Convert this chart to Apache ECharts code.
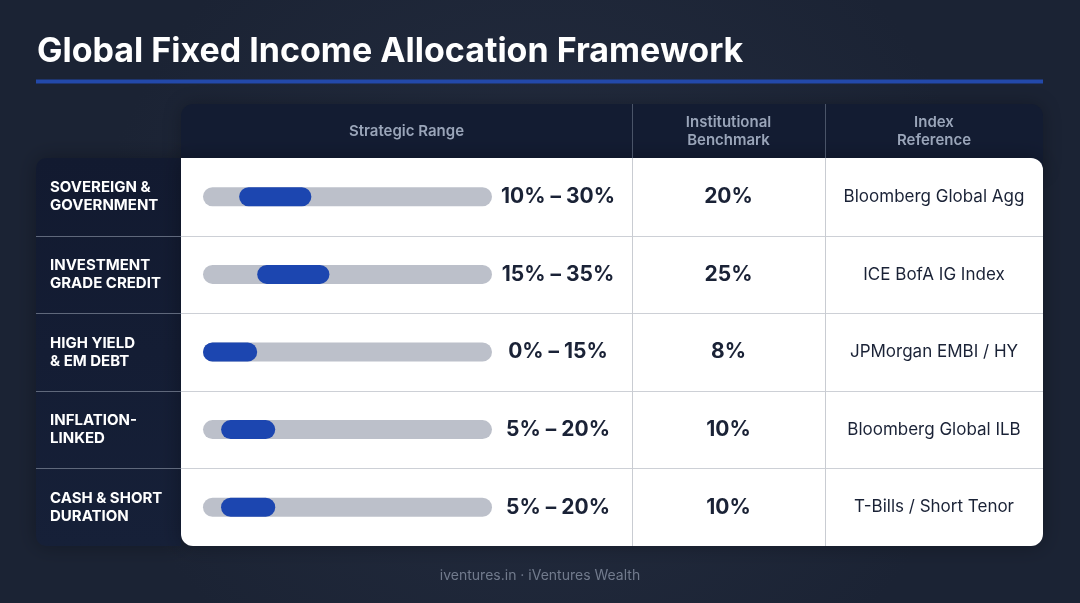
<!DOCTYPE html>
<html>
<head>
<meta charset="utf-8">
<title>Global Fixed Income Allocation Framework</title>
<script src="https://cdn.jsdelivr.net/npm/echarts@6/dist/echarts.min.js"></script>
<style>
	html, body { margin: 0; padding: 0; background: #1f2739; }
	#chart { width: 1080px; height: 603px; }
</style>
</head>
<body>
<div id="chart"></div>
<script>
	// 数据
	var categories = ["SOVEREIGN &\nGOVERNMENT", "INVESTMENT\nGRADE CREDIT", "HIGH YIELD\n& EM DEBT", "INFLATION-\nLINKED", "CASH & SHORT\nDURATION"];
	var rangeLow = [10, 15, 0, 5, 5];
	var rangeHigh = [30, 35, 15, 20, 20];
	var benchmark = [20, 25, 8, 10, 10];
	var indexRef = ["Bloomberg Global Agg", "ICE BofA IG Index", "JPMorgan EMBI / HY", "Bloomberg Global ILB", "T-Bills / Short Tenor"];
	var scaleMax = 80; // 轨道满刻度

	var FONT = "Inter, 'Noto Sans', sans-serif";
	var W = 1080;

	// 表格布局
	var tblLeft = 181, tblRight = 1043, tblTop = 158, tblBottom = 546;
	var headTop = 104;
	var lblLeft = 36;
	var col1 = 632, col2 = 825;
	var rowH = (tblBottom - tblTop) / categories.length;

	var trackData = [];
	var fillData = [];
	for(var i = 0; i < categories.length; i++) {
		trackData.push(scaleMax);
		fillData.push(rangeHigh[i] - rangeLow[i]);
	}

	var graphics = [];
	// 表头
	graphics.push({
		type: 'rect', z: 0,
		shape: { x: tblLeft, y: headTop, width: tblRight - tblLeft, height: tblTop - headTop + 14, r: [12, 12, 0, 0] },
		style: { fill: '#131c32', shadowBlur: 18, shadowColor: 'rgba(0,0,0,0.25)' }
	});
	// 左侧标签区
	graphics.push({
		type: 'rect', z: 0,
		shape: { x: lblLeft, y: tblTop, width: tblLeft - lblLeft, height: tblBottom - tblTop, r: [10, 0, 0, 10] },
		style: {
			fill: new echarts.graphic.LinearGradient(0, 0, 0, 1, [
				{ offset: 0, color: '#121a30' },
				{ offset: 1, color: '#162038' }
			]),
			shadowBlur: 20, shadowColor: 'rgba(0,0,0,0.3)'
		}
	});
	// 白色表体
	graphics.push({
		type: 'rect', z: 1,
		shape: { x: tblLeft, y: tblTop, width: tblRight - tblLeft, height: tblBottom - tblTop, r: [0, 12, 12, 12] },
		style: { fill: '#ffffff', shadowBlur: 20, shadowColor: 'rgba(0,0,0,0.3)' }
	});
	// 行分隔线
	for(var r = 1; r < categories.length; r++) {
		var yy = Math.round(tblTop + rowH * r) + 0.5;
		graphics.push({
			type: 'line', z: 2,
			shape: { x1: tblLeft, y1: yy, x2: tblRight, y2: yy },
			style: { stroke: '#cdd0d6', lineWidth: 1 }
		});
		graphics.push({
			type: 'line', z: 2,
			shape: { x1: lblLeft, y1: yy, x2: tblLeft, y2: yy },
			style: { stroke: '#5f687b', lineWidth: 1 }
		});
	}
	// 列分隔线
	[col1, col2].forEach(function(cx) {
		graphics.push({
			type: 'line', z: 2,
			shape: { x1: cx + 0.5, y1: headTop, x2: cx + 0.5, y2: tblTop },
			style: { stroke: '#4a5468', lineWidth: 1 }
		});
		graphics.push({
			type: 'line', z: 2,
			shape: { x1: cx + 0.5, y1: tblTop, x2: cx + 0.5, y2: tblBottom },
			style: { stroke: '#c9ccd2', lineWidth: 1 }
		});
	});
	// 表头文字
	var headStyle = { fill: '#9aa5b9', font: '600 15px ' + FONT, textAlign: 'center', textVerticalAlign: 'middle', lineHeight: 18 };
	graphics.push({ type: 'text', z: 3, x: (tblLeft + col1) / 2, y: 131, style: echarts.util.extend({ text: 'Strategic Range' }, headStyle) });
	graphics.push({ type: 'text', z: 3, x: (col1 + col2) / 2, y: 131, style: echarts.util.extend({ text: 'Institutional\nBenchmark' }, headStyle) });
	graphics.push({ type: 'text', z: 3, x: (col2 + tblRight) / 2, y: 131, style: echarts.util.extend({ text: 'Index\nReference' }, headStyle) });
	// 标题下划线
	graphics.push({
		type: 'rect', z: 3,
		shape: { x: 36, y: 79.5, width: tblRight - 36, height: 4 },
		style: { fill: '#2349aa' }
	});
	// 页脚
	graphics.push({
		type: 'text', z: 3, x: W / 2, y: 576,
		style: { text: 'iventures.in · iVentures Wealth', fill: '#727b8d', font: '14px ' + FONT, textAlign: 'center', textVerticalAlign: 'middle' }
	});

	function sideAxis(margin, fmt, size, weight) {
		return {
			type: 'category',
			inverse: true,
			position: 'right',
			data: categories,
			z: 10,
			axisLine: { show: false },
			axisTick: { show: false },
			splitLine: { show: false },
			axisLabel: {
				margin: margin,
				align: 'center',
				color: '#1a2236',
				fontSize: size,
				fontWeight: weight,
				fontFamily: FONT,
				formatter: function(v, idx) { return fmt(idx); }
			}
		};
	}

	var option = {
		backgroundColor: new echarts.graphic.RadialGradient(0.5, 0.5, 0.75, [
			{ offset: 0, color: '#252e41' },
			{ offset: 1, color: '#1b2334' }
		]),
		animation: false,
		title: {
			text: 'Global Fixed Income Allocation Framework',
			left: 32,
			top: 30,
			textStyle: { color: '#ffffff', fontSize: 34, fontWeight: 'bold', fontFamily: FONT }
		},
		grid: {
			left: 203,
			right: W - 492,
			top: tblTop,
			height: tblBottom - tblTop,
			containLabel: false
		},
		xAxis: {
			type: 'value',
			min: 0,
			max: scaleMax,
			show: false
		},
		yAxis: [{
				type: 'category',
				inverse: true,
				data: categories,
				z: 10,
				axisLine: { show: false },
				axisTick: { show: false },
				axisLabel: {
					margin: 203 - 50,
					align: 'left',
					color: '#ffffff',
					fontSize: 15,
					fontWeight: 'bold',
					lineHeight: 18,
					fontFamily: FONT
				}
			},
			sideAxis(66, function(i) { return rangeLow[i] + '% – ' + rangeHigh[i] + '%'; }, 21, 'bold'),
			sideAxis((col1 + col2) / 2 - 492, function(i) { return benchmark[i] + '%'; }, 21, 'bold'),
			sideAxis((col2 + tblRight) / 2 - 492, function(i) { return indexRef[i]; }, 17, 'normal')
		],
		graphic: graphics,
		series: [{
				name: 'track',
				type: 'bar',
				z: 5,
				silent: true,
				barWidth: 19,
				barGap: '-100%',
				itemStyle: { color: '#bcc0ca', borderRadius: 9.5 },
				data: trackData
			},
			{
				name: 'low',
				type: 'bar',
				stack: 'range',
				z: 6,
				silent: true,
				barWidth: 19,
				itemStyle: { color: 'transparent' },
				data: rangeLow
			},
			{
				name: 'range',
				type: 'bar',
				stack: 'range',
				z: 6,
				barWidth: 19,
				itemStyle: { color: '#1c46b0', borderRadius: 9.5 },
				data: fillData
			}
		]
	};

	var chart = echarts.init(document.getElementById('chart'));
	chart.setOption(option);
</script>
</body>
</html>
